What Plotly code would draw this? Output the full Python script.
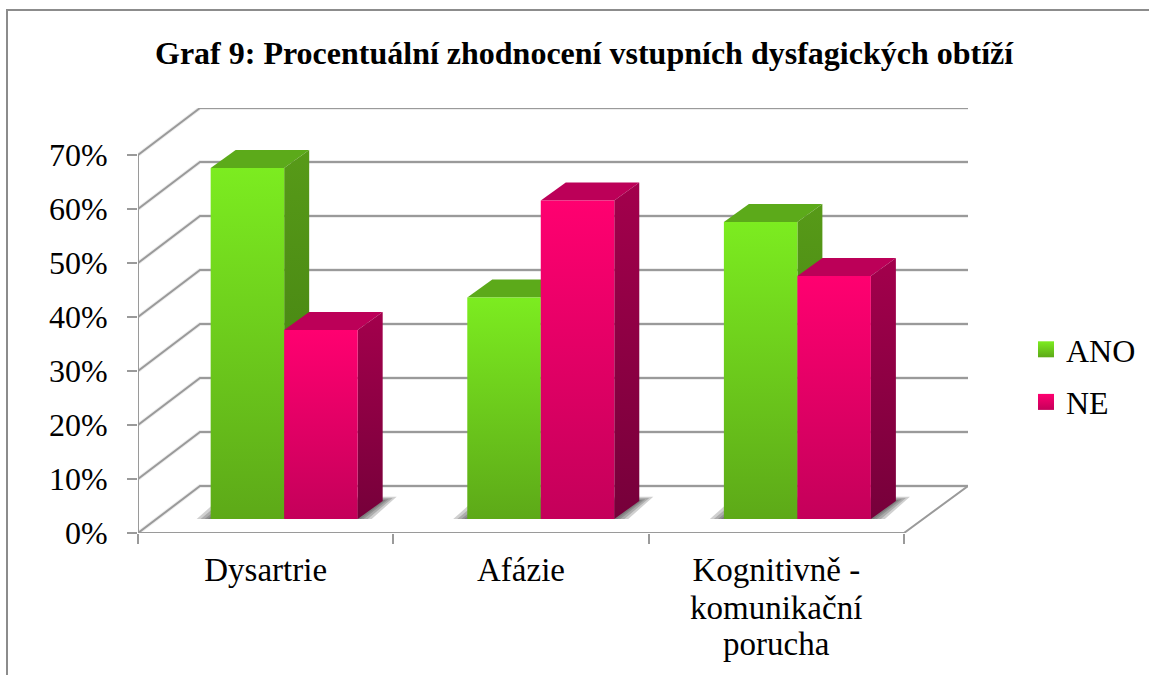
import plotly.graph_objects as go

# --- data ---
categories_first_line = ["Dysartrie", "Afázie", "Kognitivně -"]
category_extra_lines = [[], [], ["komunikační", "porucha"]]
ano_values = [65, 41, 55]
ne_values = [35, 59, 45]
series_names = ["ANO", "NE"]
y_ticks = [0, 10, 20, 30, 40, 50, 60, 70]
y_labels = ["0%", "10%", "20%", "30%", "40%", "50%", "60%", "70%"]
title_text = "Graf 9: Procentuální zhodnocení vstupních dysfagických obtíží"

# --- geometry of the pseudo 3D scene (axis units) ---
W, H = 1149, 675
L, R, T, B = 138, 968, 108, 533
PX_X = (904 - 138) / 3
PX_Y = 54 / 10
X_MAX = (R - L) / PX_X
Y_MAX = (B - T) / PX_Y
WALL_DX = 62 / PX_X
WALL_DY = 47 / PX_Y
BAR_W = 73.5 / PX_X
BAR_DX = 25 / PX_X
BAR_DY = 18 / PX_Y
BASE_Y = 14 / PX_Y
GROUP_SHIFT = 18.5 / PX_X

GRID = "#9a9a9a"
FONT = "Liberation Serif"
STYLE = {
    "ANO": dict(front=["#5DA918", "#7CEC20"], side=["#3F7B10", "#579A18"], top="#5CAA1A",
                key=["#7CEC20", "#5DA918"]),
    "NE": dict(front=["#C4005A", "#FF0070"], side=["#76003A", "#A3004C"], top="#BC0058",
               key=["#FF0070", "#C4005A"]),
}

fig = go.Figure()


def line(xs, ys, color=GRID, width=2):
    fig.add_trace(go.Scatter(x=xs, y=ys, mode="lines", line=dict(color=color, width=width),
                             hoverinfo="skip", showlegend=False))


def poly(xs, ys, color=None, gradient=None):
    kw = dict(fillcolor=color) if color else dict(fillgradient=gradient)
    fig.add_trace(go.Scatter(x=xs + xs[:1], y=ys + ys[:1], mode="lines", fill="toself",
                             line=dict(width=0), hoverinfo="skip", showlegend=False, **kw))


# walls and floor
for v in y_ticks:
    xs = [0, WALL_DX, X_MAX]
    ys = [v, v + WALL_DY, v + WALL_DY]
    line(xs, ys, "rgba(0,0,0,0.07)", 4)
    line(xs, ys)
line([0, 0], [0, 70])
line([0, 3, X_MAX], [0, 0, WALL_DY])

# bars
for i, (a, n) in enumerate(zip(ano_values, ne_values)):
    centre = i + 0.5 + GROUP_SHIFT + i * 0.005
    # soft floor shadow, built from nested translucent layers
    for spread in (14, 10, 6, 3):
        x0 = centre - BAR_W - spread / PX_X
        x1 = centre + BAR_W + (25 + spread) / PX_X
        rise = (18 + spread * 0.3) / PX_Y
        poly([x0, x0 + 25 / PX_X, x1, x1 - 25 / PX_X],
             [BASE_Y, BASE_Y + rise, BASE_Y + rise, BASE_Y], color="rgba(60,60,60,0.24)")
    for name, val, left in (("ANO", a, centre - BAR_W), ("NE", n, centre)):
        s = STYLE[name]
        right = left + BAR_W
        top = BASE_Y + val
        poly([left, right, right + BAR_DX, left + BAR_DX],
             [top, top, top + BAR_DY, top + BAR_DY], color=s["top"])
        poly([right, right + BAR_DX, right + BAR_DX, right],
             [BASE_Y, BASE_Y + BAR_DY, top + BAR_DY, top],
             gradient=dict(type="vertical", colorscale=[[0, s["side"][0]], [1, s["side"][1]]]))
        poly([left, right, right, left], [BASE_Y, BASE_Y, top, top],
             gradient=dict(type="vertical", colorscale=[[0, s["front"][0]], [1, s["front"][1]]]))

# legend keys
for name in series_names:
    fig.add_trace(go.Scatter(x=[None], y=[None], mode="markers", name=name, legendgroup=name,
                             marker=dict(symbol="square", size=17, color=STYLE[name]["key"][0],
                                         gradient=dict(type="vertical", color=STYLE[name]["key"][1]),
                                         line=dict(width=0))))

px = lambda x: (x - L) / (R - L)
py = lambda y: (B - y) / (B - T)

annotations = [dict(text=f"<b>{title_text}</b>", xref="paper", yref="paper",
                    x=px(584), y=py(53), yanchor="middle", xanchor="center",
                    showarrow=False, font=dict(family=FONT, size=32, color="#000"))]
for i, extras in enumerate(category_extra_lines):
    for j, txt in enumerate(extras):
        annotations.append(dict(text=txt, x=i + 0.5, xref="x", yref="paper", y=py(608 + 35.5 * j),
                                yanchor="middle", showarrow=False,
                                font=dict(family=FONT, size=33, color="#000")))

shapes = [dict(type="line", xref="paper", yref="paper", x0=px(7), x1=px(7), y0=py(10), y1=py(680),
               line=dict(color="#8c8c8c", width=2)),
          dict(type="line", xref="paper", yref="paper", x0=px(6), x1=px(1155), y0=py(10), y1=py(10),
               line=dict(color="#8c8c8c", width=2))]

fig.update_layout(
    width=W, height=H, margin=dict(l=L, r=W - R, t=T, b=H - B, autoexpand=False),
    paper_bgcolor="white", plot_bgcolor="white",
    font=dict(family=FONT, size=32, color="#000"),
    annotations=annotations, shapes=shapes,
    legend=dict(x=px(1026), y=py(322), xanchor="left", yanchor="top", tracegroupgap=8,
                font=dict(family=FONT, size=32), itemwidth=30, bgcolor="rgba(0,0,0,0)"),
    xaxis=dict(range=[0, X_MAX], showgrid=False, zeroline=False, showline=False,
               tickmode="array", tickvals=[0.5, 1.5, 2.5], ticktext=categories_first_line,
               ticks="", ticklabelstandoff=14, tickfont=dict(family=FONT, size=33),
               minor=dict(tickmode="array", tickvals=[0, 1, 2, 3], ticks="outside", ticklen=10,
                          tickwidth=2, tickcolor=GRID)),
    yaxis=dict(range=[0, Y_MAX], showgrid=False, zeroline=False, showline=False,
               tickmode="array", tickvals=y_ticks, ticktext=y_labels,
               ticks="outside", ticklen=10, tickwidth=2, tickcolor=GRID, ticklabelstandoff=13),
)

fig.write_html("out.html", config=dict(displayModeBar=False),
               post_script="document.body.style.margin='0';document.body.style.overflow='hidden';")
